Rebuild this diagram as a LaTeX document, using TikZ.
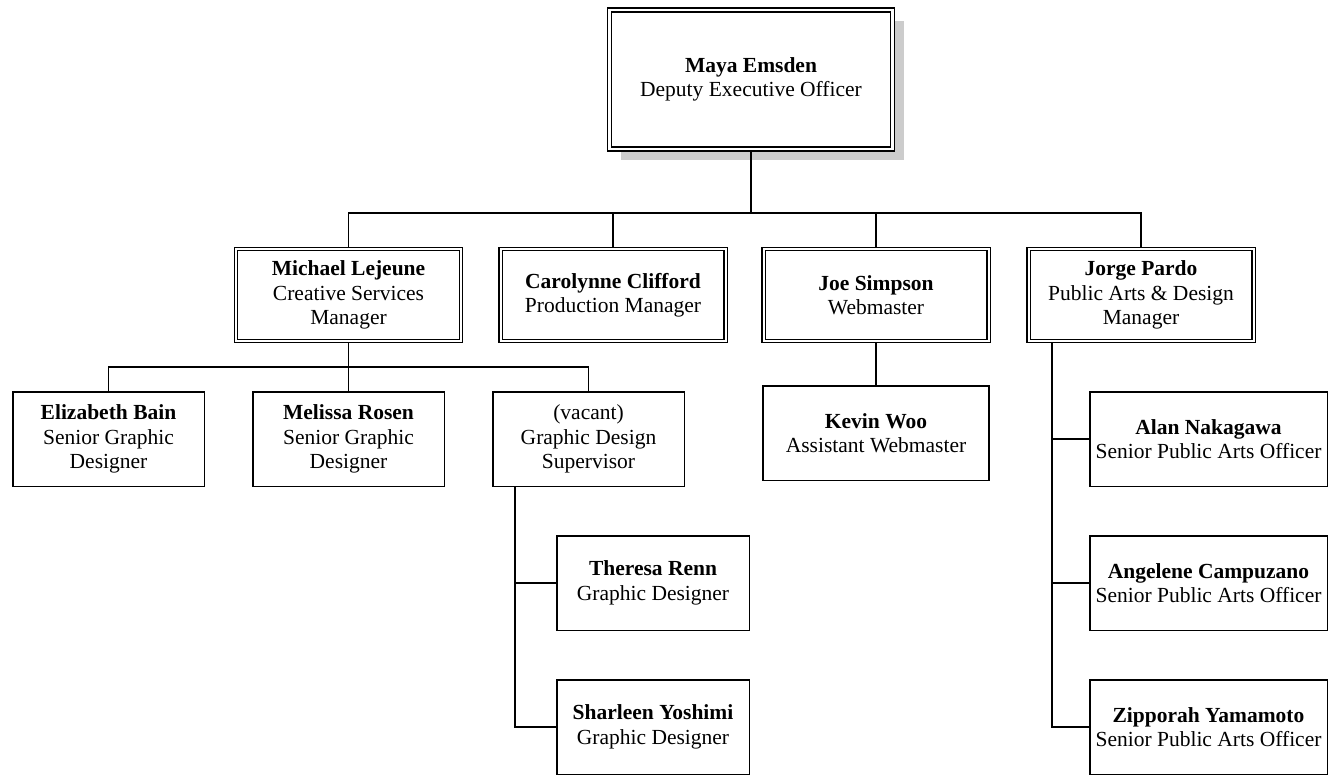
\documentclass[tikz,border=0pt]{standalone}
\usepackage{fontspec}
\setmainfont{Liberation Serif}
\usetikzlibrary{shadows}
\tikzset{
  person/.style = {align=center, fill=white, inner sep=0pt,
    font=\fontsize{21.5}{24.5}\selectfont},
  headbox/.style = {person, draw, double, line width=1.6pt,
    double distance=2.6pt, outer sep=2.9pt,
    minimum width=283pt, minimum height=139pt,
    drop shadow={shadow xshift=11pt, shadow yshift=-11pt,
      fill=black!20, opacity=1}},
  mgrbox/.style = {person, draw, double, line width=1.2pt,
    double distance=2pt, outer sep=2.2pt,
    minimum width=225pt, minimum height=91.5pt},
  staffbox/.default = {191.5pt},
  staffbox/.style = {person, draw, line width=1.5pt,
    minimum width=#1, minimum height=94.5pt},
  link/.style = {draw, line width=1.4pt}
}
\begin{document}
\begin{tikzpicture}[x=1pt, y=-1pt]
  \useasboundingbox (0,0) rectangle (1330,774);

  \node[headbox] (maya) at (751,79.5) {\textbf{Maya Emsden}\\Deputy Executive Officer};

  \node[mgrbox] (michael) at (348.5,295) {\textbf{Michael Lejeune}\\Creative Services\\Manager};
  \node[mgrbox] (carolynne) at (613,295) {\textbf{Carolynne Clifford}\\Production Manager};
  \node[mgrbox] (joe) at (876,295) {\textbf{Joe Simpson}\\Webmaster};
  \node[mgrbox] (jorge) at (1141,295) {\textbf{Jorge Pardo}\\Public Arts \& Design\\Manager};

  \node[staffbox] (elizabeth) at (108.5,439) {\textbf{Elizabeth Bain}\\Senior Graphic\\Designer};
  \node[staffbox] (melissa) at (348.5,439) {\textbf{Melissa Rosen}\\Senior Graphic\\Designer};
  \node[staffbox] (vacant) at (588.5,439) {(vacant)\\Graphic Design\\Supervisor};
  \node[staffbox=226pt] (kevin) at (876,433) {\textbf{Kevin Woo}\\Assistant Webmaster};

  \node[staffbox=192.5pt] (theresa) at (653,583) {\textbf{Theresa Renn}\\Graphic Designer};
  \node[staffbox=192.5pt] (sharleen) at (653,727) {\textbf{Sharleen Yoshimi}\\Graphic Designer};

  \node[staffbox=237.5pt] (alan) at (1208.5,439) {\textbf{Alan Nakagawa}\\Senior Public Arts Officer};
  \node[staffbox=237.5pt] (angelene) at (1208.5,583) {\textbf{Angelene Campuzano}\\Senior Public Arts Officer};
  \node[staffbox=237.5pt] (zipporah) at (1208.5,727) {\textbf{Zipporah Yamamoto}\\Senior Public Arts Officer};

  \coordinate (topbus) at (751,213);
  \draw[link] (maya.south) -- (topbus);
  \foreach \mgr in {michael,carolynne,joe,jorge}
    \draw[link] (\mgr.north) |- (topbus);

  \coordinate (csbus) at (348.5,367);
  \draw[link] (michael.south) -- (csbus);
  \foreach \st in {elizabeth,melissa,vacant}
    \draw[link] (\st.north) |- (csbus);

  \draw[link] (joe.south) -- (kevin.north);

  \coordinate (gdtrunk) at (515,0);
  \foreach \st in {theresa,sharleen}
    \draw[link] (gdtrunk |- vacant.south) |- (\st.west);

  \coordinate (patrunk) at (1052,0);
  \foreach \st in {alan,angelene,zipporah}
    \draw[link] (patrunk |- jorge.south) |- (\st.west);
\end{tikzpicture}
\end{document}
